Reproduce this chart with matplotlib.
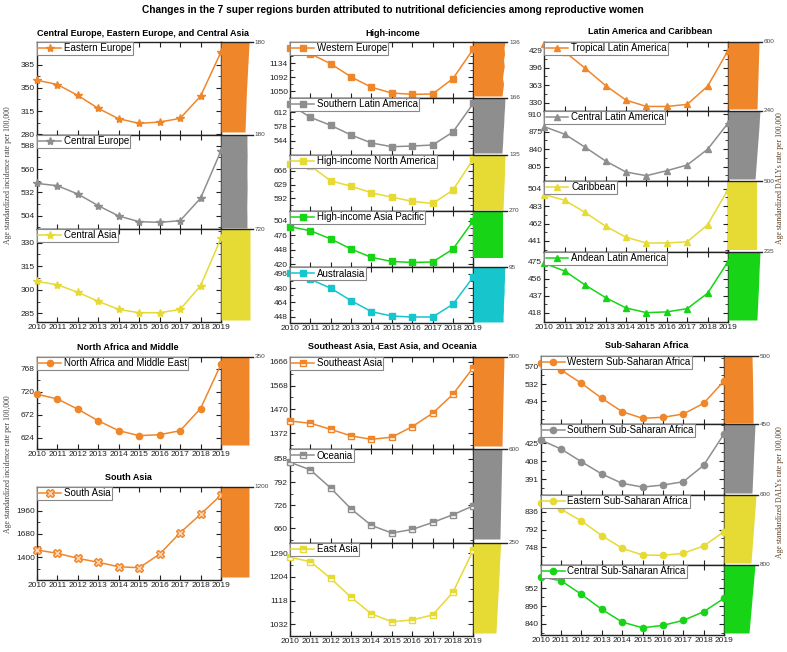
import matplotlib
matplotlib.use("Agg")
import matplotlib.pyplot as plt
from matplotlib.ticker import AutoMinorLocator

plt.rcParams['font.family'] = ['Liberation Sans', 'DejaVu Sans']

W, H = 787, 652
years = list(range(2010, 2020))

# incidence rates (per 100,000), 2010-2019
eastern_europe = [361.5, 355, 338.6, 319, 303.4, 296.5, 298.5, 304, 337.5, 404]
central_europe = [542.8, 540, 530, 516, 503.6, 496.8, 496, 498, 525, 582]
central_asia = [305.3, 303.2, 298.4, 292.6, 287.5, 285.4, 285.4, 287.5, 302.6, 332.8]
north_africa = [714.6, 705, 683.6, 659.5, 639, 628.7, 630.7, 639, 685, 777]
south_asia = [1488, 1448, 1388, 1340, 1287, 1275, 1439, 1695, 1916, 2148]
western_europe = [1178, 1162, 1132, 1093, 1062, 1045, 1041, 1042, 1088, 1176]
southern_latam = [630, 599.4, 580.4, 557.5, 538.5, 529.7, 531.3, 533.7, 564.5, 632.6]
hi_north_america = [685, 680, 639, 624.8, 606.9, 595, 584, 578, 614, 698]
hi_asia_pacific = [492.9, 485, 469, 449.3, 433, 425, 423, 424, 449, 504.6]
australasia = [497, 490, 480, 466, 453.6, 448.7, 447.6, 447.6, 462, 492.7]
southeast_asia = [1422, 1413, 1388, 1361, 1347, 1356, 1399, 1454, 1532, 1642]
oceania = [848.6, 826.8, 775, 715.6, 668.4, 647, 657, 677, 699, 724.5]
east_asia = [1275.5, 1259.6, 1199, 1130, 1069.6, 1041.6, 1047.7, 1066, 1148, 1302]
tropical_latam = [441, 425.8, 394.8, 362.3, 334.9, 323, 323, 326.8, 361, 427.7]
central_latam = [885, 870, 844, 816.4, 794.4, 787, 797, 808.4, 839.8, 892]
caribbean = [497, 490, 475.4, 458.8, 445.5, 438.5, 438.5, 440, 460.5, 503]
andean_latam = [472.8, 464.3, 448.9, 435, 423.6, 418.4, 419.2, 422.8, 439.8, 474.6]
western_ssa = [577, 562.7, 533.5, 500.6, 471.4, 456.8, 459, 466.2, 489.6, 538.6]
southern_ssa = [428.1, 419.6, 407.6, 396, 387.2, 383.7, 385.6, 388.7, 404.2, 433.8]
eastern_ssa = [858, 842, 813, 777, 745.6, 729, 728.3, 733.2, 751.3, 786.6]
central_ssa = [988, 976, 933, 886, 846, 828, 835.5, 851.3, 878.4, 920.6]

# DALYs rate strips (2010 at bottom -> 2019 at top), axis max shown as label
dalys_eastern_europe = [135, 137, 139, 141, 143, 146, 149, 152, 155, 158]
dalys_central_europe = [146, 146, 145, 146, 147, 146, 146, 147, 146, 146]
dalys_central_asia = [652, 652, 651, 652, 652, 653, 652, 652, 652, 652]
dalys_north_africa = [306, 306, 306, 307, 306, 306, 306, 306, 306, 306]
dalys_south_asia = [1050, 1050, 1050, 1050, 1051, 1050, 1050, 1050, 1050, 1050]
dalys_western_europe = [116, 119, 122, 118, 121, 125, 122, 126, 124, 128]
dalys_southern_latam = [141, 143, 145, 146, 148, 150, 151, 153, 155, 156]
dalys_hi_north_america = [119, 120, 121, 122, 123, 124, 125, 125, 126, 127]
dalys_hi_asia_pacific = [238, 238, 238, 238, 238, 238, 238, 238, 238, 238]
dalys_australasia = [84, 84, 85, 85, 86, 87, 87, 88, 88, 89]
dalys_southeast_asia = [426, 429, 432, 435, 438, 442, 445, 448, 452, 455]
dalys_oceania = [474, 478, 482, 486, 490, 494, 498, 502, 506, 510]
dalys_east_asia = [168, 172, 176, 180, 184, 188, 192, 195, 199, 203]
dalys_tropical_latam = [512, 516, 520, 524, 528, 532, 536, 540, 544, 547]
dalys_central_latam = [191, 195, 199, 203, 207, 211, 215, 219, 222, 226]
dalys_caribbean = [426, 426, 426, 426, 426, 426, 426, 426, 426, 426]
dalys_andean_latam = [200, 202, 205, 207, 210, 212, 214, 216, 219, 221]
dalys_western_ssa = [426, 428, 427, 425, 423, 421, 419, 417, 414, 412]
dalys_southern_ssa = [370, 375, 379, 384, 388, 392, 397, 401, 406, 410]
dalys_eastern_ssa = [476, 486, 496, 506, 516, 526, 536, 546, 556, 565]
dalys_central_ssa = [588, 604, 619, 635, 651, 666, 682, 698, 713, 729]

orange = '#f0862a'
gray = '#8e8e8e'
yellow = '#e6da35'
green = '#17d417'
cyan = '#17c6cc'

fig = plt.figure(figsize=(W / 100, H / 100), dpi=100)


def rect(x0, y0, x1, y1):
    return [x0 / W, 1 - y1 / H, (x1 - x0) / W, (y1 - y0) / H]


def panel(box, vals, name, ylim, yticks, color, marker, show_x, dalys, dmax,
          strip_box, mfc=None, fs='full', ms=4.5):
    x0, y0, x1, y1 = box
    ax = fig.add_axes(rect(x0, y0, x1, y1))
    ax.plot(years, vals, color=color, lw=1.1, marker=marker, ms=ms,
            mfc=mfc if mfc else color, mec=color, fillstyle=fs,
            markerfacecoloralt='white', label=name, clip_on=False, zorder=3)
    ax.set_xlim(2010, 2019)
    ax.set_ylim(*ylim)
    ax.set_yticks(yticks)
    ax.set_xticks(years)
    ax.yaxis.set_minor_locator(AutoMinorLocator(2))
    ax.tick_params(which='both', direction='in', top=True, right=True,
                   labelsize=6, pad=1.5, colors='#222')
    ax.tick_params(which='major', length=3.5, width=0.8)
    ax.tick_params(which='minor', length=2, width=0.6)
    ax.tick_params(axis='x', which='minor', top=False, bottom=False)
    if not show_x:
        ax.set_xticklabels([])
    for s in ax.spines.values():
        s.set_color('#222')
        s.set_linewidth(1)
    leg = ax.legend(loc='upper left', bbox_to_anchor=(0, 1), borderaxespad=0,
                    fancybox=False, edgecolor='#888', fontsize=7,
                    handlelength=2.3, handletextpad=0.3, borderpad=0.15,
                    framealpha=1)
    leg.get_frame().set_linewidth(0.8)

    # DALYs strip
    sx0, sy1 = strip_box
    sax = fig.add_axes(rect(x1, y0, sx0, sy1))
    sax.fill_betweenx(years, 0, dalys, color=color, lw=0)
    sax.set_xlim(0, dmax)
    sax.set_ylim(2010, 2019)
    sax.set_xticks([])
    sax.set_yticks([])
    for k in ['left', 'right', 'bottom']:
        sax.spines[k].set_visible(False)
    sax.spines['top'].set_color('#222')
    sax.spines['top'].set_linewidth(1)
    sax.patch.set_alpha(0)
    sax.text(1.06, 1.0, str(dmax), transform=sax.transAxes, fontsize=4.6,
             va='center', ha='left', color='#444')
    return ax


# column 1
panel((37, 42, 221, 135), eastern_europe, 'Eastern Europe', (279, 419), [280, 315, 350, 385],
      orange, '*', False, dalys_eastern_europe, 180, (253, 132), ms=6)
panel((37, 135, 221, 229), central_europe, 'Central Europe', (488, 601), [504, 532, 560, 588],
      gray, '*', False, dalys_central_europe, 180, (253, 228), ms=6)
panel((37, 229, 221, 322), central_asia, 'Central Asia', (279.5, 338.7), [285, 300, 315, 330],
      yellow, '*', True, dalys_central_asia, 720, (253, 320), ms=6)
panel((37, 357, 221, 449), north_africa, 'North Africa and Middle East', (601, 792), [624, 672, 720, 768],
      orange, 'o', True, dalys_north_africa, 350, (253, 445))
panel((37, 487, 221, 580), south_asia, 'South Asia', (1128, 2244), [1400, 1680, 1960],
      orange, 'X', True, dalys_south_asia, 1200, (253, 577), mfc='#fbd5b5', ms=5.5)

# column 2
panel((290, 42, 473.3, 97.7), western_europe, 'Western Europe', (1031, 1197), [1050, 1092, 1134],
      orange, 's', False, dalys_western_europe, 136, (507, 96))
panel((290, 97.7, 473.3, 155), southern_latam, 'Southern Latin America', (510, 646), [544, 578, 612],
      gray, 's', False, dalys_southern_latam, 166, (507, 153))
panel((290, 155, 473.3, 211), hi_north_america, 'High-income North America', (557.7, 709), [592, 629, 666],
      yellow, 's', False, dalys_hi_north_america, 135, (507, 210))
panel((290, 211, 473.3, 267.3), hi_asia_pacific, 'High-income Asia Pacific', (413.6, 523.5), [420, 448, 476, 504],
      green, 's', False, dalys_hi_asia_pacific, 270, (507, 258))
panel((290, 267.3, 473.3, 322.7), australasia, 'Australasia', (441.2, 503.5), [448, 464, 480, 496],
      cyan, 's', True, dalys_australasia, 95, (507, 322))
panel((290, 356.7, 473.3, 449.3), southeast_asia, 'Southeast Asia', (1306, 1686.5), [1372, 1470, 1568, 1666],
      orange, 's', False, dalys_southeast_asia, 500, (507, 446), fs='top')
panel((290, 449.3, 473.3, 542.7), oceania, 'Oceania', (619.3, 885.5), [660, 726, 792, 858],
      gray, 's', False, dalys_oceania, 600, (507, 539), fs='top')
panel((290, 542.7, 473.3, 636), east_asia, 'East Asia', (989.5, 1328.5), [1032, 1118, 1204, 1290],
      yellow, 's', True, dalys_east_asia, 250, (507, 633), fs='top')

# column 3
panel((544.3, 41.7, 728, 110.7), tropical_latam, 'Tropical Latin America', (315, 444.6), [330, 363, 396, 429],
      orange, '^', False, dalys_tropical_latam, 600, (762, 109))
panel((544.3, 110.7, 728, 181), central_latam, 'Central Latin America', (776.4, 917), [805, 840, 875, 910],
      gray, '^', False, dalys_central_latam, 240, (762, 179))
panel((544.3, 181, 728, 251.7), caribbean, 'Caribbean', (428, 513.3), [441, 462, 483, 504],
      yellow, '^', False, dalys_caribbean, 500, (762, 250))
panel((544.3, 251.7, 728, 321.7), andean_latam, 'Andean Latin America', (408.4, 485.6), [418, 437, 456, 475],
      green, '^', True, dalys_andean_latam, 235, (762, 320))
panel((540.7, 356, 724, 424), western_ssa, 'Western Sub-Saharan Africa', (444.3, 593.4), [494, 532, 570],
      orange, 'o', False, dalys_western_ssa, 500, (758, 423))
panel((540.7, 424, 724, 495), southern_ssa, 'Southern Sub-Saharan Africa', (376.2, 443.2), [391, 408, 425],
      gray, 'o', False, dalys_southern_ssa, 450, (758, 493))
panel((540.7, 495, 724, 565), eastern_ssa, 'Eastern Sub-Saharan Africa', (704.3, 877.3), [748, 792, 836],
      yellow, 'o', False, dalys_eastern_ssa, 600, (758, 563))
panel((540.7, 565, 724, 635), central_ssa, 'Central Sub-Saharan Africa', (805.3, 1025.4), [840, 896, 952],
      green, 'o', True, dalys_central_ssa, 800, (758, 633))

# titles
fig.text(393 / W, 1 - 10 / H,
         'Changes in the 7 super regions burden attributed to nutritional deficiencies among reproductive women',
         ha='center', va='center', fontsize=7.3, fontweight='bold')
group_titles = [
    ('Central Europe, Eastern Europe, and Central Asia', 143, 33),
    ('High-income', 393, 33),
    ('Latin America and Caribbean', 650, 32),
    ('North Africa and Middle', 128, 347),
    ('South Asia', 128, 478),
    ('Southeast Asia, East Asia, and Oceania', 392, 346),
    ('Sub-Saharan Africa', 647, 345),
]
for t, x, y in group_titles:
    fig.text(x / W, 1 - y / H, t, ha='center', va='center', fontsize=6.5, fontweight='bold')

ylab_left = 'Age standardized incidence rate per 100,000'
ylab_right = 'Age standardized DALYs rate per 100,000'
for y in (175, 464):
    fig.text(8 / W, 1 - y / H, ylab_left, rotation=90, ha='center', va='center',
             fontsize=5.6, family='Liberation Serif', color='#444')
for y in (178, 492):
    fig.text(780 / W, 1 - y / H, ylab_right, rotation=90, ha='center', va='center',
             fontsize=5.6, family='Liberation Serif', color='#5a3e22')

fig.savefig('out.png', dpi=100)
